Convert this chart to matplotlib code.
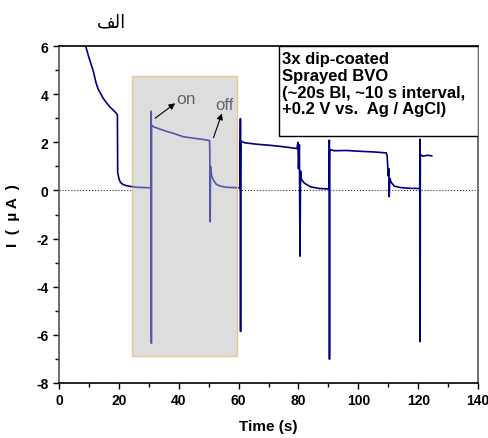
import matplotlib
matplotlib.use('Agg')
import matplotlib.pyplot as plt
from matplotlib.patches import Rectangle
from matplotlib.ticker import MultipleLocator

plt.rcParams['font.family'] = ['Liberation Sans', 'DejaVu Sans']
plt.rcParams['axes.unicode_minus'] = False

# photocurrent trace (time in s, current in uA)
time_s = [8.9, 9.8, 10.7, 11.5, 12.3, 13.1, 14, 14.8, 16, 17, 18, 18.8, 19.5,
          19.6, 20.0, 20.4, 21, 21.5, 22.5, 23.7, 26, 30.7,
          30.8, 30.85, 30.9, 31.5, 33.2, 36, 38, 41.5, 45, 48, 50.3,
          50.4, 50.5, 50.6, 51, 51.6, 52.5, 53.8, 56, 60.5,
          60.6, 60.65, 60.7, 62, 66, 70, 74, 78.9,
          79.5, 79.8, 80, 80.3, 80.5, 80.7, 81, 82, 84, 87, 90.2,
          90.3, 90.35, 90.4, 92, 96, 100, 105, 109.3,
          109.6, 110, 110.2, 110.3, 110.5, 111, 112, 114, 117, 120.5,
          120.6, 120.65, 120.7, 121.5, 123, 124.5]
current_uA = [6.0, 5.6, 5.25, 4.93, 4.5, 4.2, 4.0, 3.82, 3.62, 3.47, 3.35, 3.25, 3.15,
              0.75, 0.5, 0.36, 0.28, 0.24, 0.2, 0.17, 0.13, 0.11,
              3.29, -6.35, 2.72, 2.65, 2.57, 2.45, 2.38, 2.23, 2.17, 2.12, 2.07,
              1.4, -1.3, 1.0, 0.6, 0.43, 0.26, 0.18, 0.13, 0.11,
              2.98, -5.86, 2.05, 1.98, 1.92, 1.88, 1.83, 1.75,
              1.74, 2.0, 0.9, 1.9, -2.73, 0.8, 0.45, 0.3, 0.15, 0.08, 0.06,
              2.09, -7.01, 1.7, 1.65, 1.66, 1.63, 1.6, 1.56,
              1.45, 0.6, 0.9, -0.26, 0.5, 0.33, 0.18, 0.12, 0.09, 0.08,
              2.13, -6.28, 1.5, 1.42, 1.46, 1.44]

legend_text = "3x dip-coated\nSprayed BVO\n(~20s BI, ~10 s interval,\n+0.2 V vs.  Ag / AgCl)"

fig = plt.figure(figsize=(4.89, 4.39), dpi=100)
ax = fig.add_axes([0.1207, 0.1253, 0.857, 0.7676])

ax.plot(time_s, current_uA, color='#000080', lw=1.2, zorder=2)
ax.axhline(0, color='#333333', ls=':', lw=0.8, zorder=1)

# highlighted on/off cycle
box = Rectangle((24.5, -6.86), 35.1, 11.62, facecolor='#dddddd',
                edgecolor='#e8c98a', lw=1, zorder=3)
ax.add_patch(box)
inner, = ax.plot(time_s, current_uA, color='#5656a8', lw=1.2, zorder=4)
inner.set_clip_path(box)

arrow = dict(arrowstyle='-|>', color='black', lw=0.8, mutation_scale=9,
             shrinkA=0, shrinkB=0)
ax.text(39.2, 3.5, 'on', color='#666666', fontsize=12.5, va='bottom', ha='left', zorder=5)
ax.annotate('', xy=(38.8, 3.62), xytext=(32.1, 3.0), arrowprops=arrow, zorder=5)
ax.text(55.3, 3.25, 'off', color='#666666', fontsize=12, va='bottom', ha='center', zorder=5)
ax.annotate('', xy=(54.4, 3.2), xytext=(51.6, 2.19), arrowprops=arrow, zorder=5)

ax.set_xlim(0, 140)
ax.set_ylim(-8, 6)
ax.xaxis.set_major_locator(MultipleLocator(20))
ax.xaxis.set_minor_locator(MultipleLocator(10))
ax.yaxis.set_major_locator(MultipleLocator(2))
ax.yaxis.set_minor_locator(MultipleLocator(1))
ax.tick_params(which='both', direction='out', width=1, labelsize=10)
ax.tick_params(which='major', length=4)
ax.tick_params(which='minor', length=3)
for lab in ax.get_xticklabels() + ax.get_yticklabels():
    lab.set_fontweight('bold')

ax.spines['top'].set_color('black')
ax.spines['bottom'].set_color('black')
ax.spines['left'].set_color('#555555')
ax.spines['right'].set_color('#555555')
for s in ax.spines.values():
    s.set_linewidth(1.2)

ax.set_xlabel('Time (s)', fontsize=11, fontweight='bold', labelpad=8)
ax.set_ylabel('I  (  µ A  )', fontsize=11, fontweight='bold', labelpad=12)

# legend box in the top right corner
ax.add_patch(Rectangle((0.525, 0.733), 0.475, 0.267, transform=ax.transAxes,
                       facecolor='white', edgecolor='black', lw=1, zorder=6))
ax.text(0.532, 0.985, legend_text, transform=ax.transAxes, va='top', ha='left',
        fontsize=12, fontweight='bold', linespacing=1.15, zorder=7)

# title "alef" in Arabic, given as shaped presentation forms in visual order
fig.text(111 / 489, 1 - 22 / 439, '\ufed2\ufedf\ufe8d', ha='center', va='center',
         fontsize=13, family=['DejaVu Sans'])

fig.savefig('out.png', dpi=100)
